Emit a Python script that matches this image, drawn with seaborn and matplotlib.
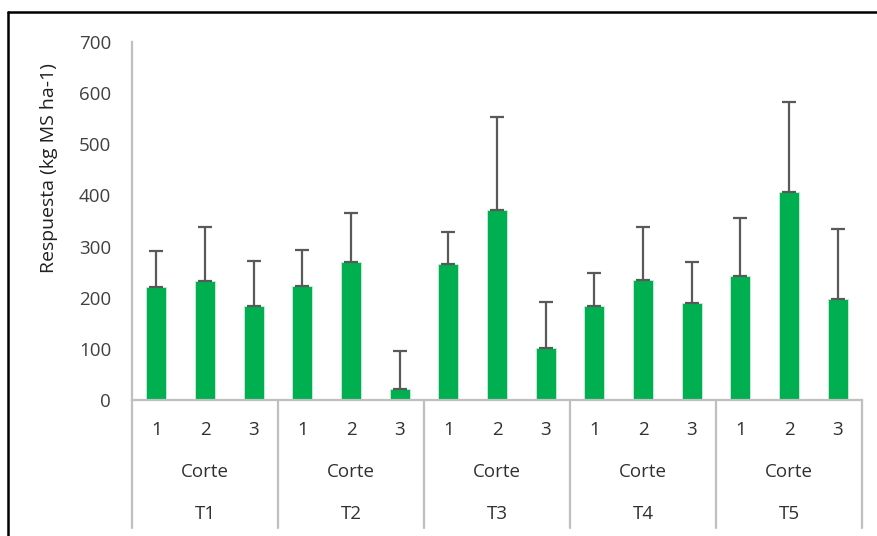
import pandas as pd
import numpy as np
import matplotlib
matplotlib.use('Agg')
import matplotlib.pyplot as plt
import matplotlib.transforms as mtransforms
from matplotlib.lines import Line2D
import seaborn as sns

sns.set_style('white')
plt.rcParams['font.family'] = ['Open Sans', 'DejaVu Sans']

# data
tratamientos = ['T1', 'T2', 'T3', 'T4', 'T5']
cortes = ['1', '2', '3']
respuesta = [221, 233, 184,
             223, 269, 22,
             265, 372, 102,
             184, 234, 190,
             242, 406, 198]
error_sup = [71, 106, 88,
             71, 97, 74,
             64, 182, 90,
             65, 105, 80,
             113, 176, 136]

df = pd.DataFrame({
    'trat': np.repeat(tratamientos, len(cortes)),
    'corte': cortes * len(tratamientos),
    'respuesta': respuesta,
    'err': error_sup,
})
df['cat'] = df['trat'] + '-' + df['corte']

fig = plt.figure(figsize=(8.78, 5.36), dpi=100)
ax = fig.add_axes([132 / 878, 1 - 400 / 536, 730 / 878, 358 / 536])

sns.barplot(data=df, x='cat', y='respuesta', color='#00B050', saturation=1,
            width=0.41, edgecolor='#C8F0D8', linewidth=0.6, ax=ax)

# upper error bars only (Excel style "plus" with caps)
xpos = np.arange(len(df))
ax.errorbar(xpos, df['respuesta'], yerr=[np.zeros(len(df)), df['err']],
            fmt='none', ecolor='#595959', elinewidth=1.6, capsize=5,
            capthick=1.6, zorder=3)

ax.set_xlim(-0.5, len(df) - 0.5)
ax.set_ylim(0, 700)
ax.set_yticks(range(0, 701, 100))
ax.tick_params(axis='y', length=0, pad=15, labelsize=13.5, labelcolor='#404040')
ax.set_xticks([])
ax.set_xlabel('')
ax.set_ylabel('Respuesta (kg MS ha-1)', fontsize=14, color='#202020')
# label sits above the axis middle in the original
ax.yaxis.set_label_coords(-0.101, 0.648)

for s in ['top', 'right']:
    ax.spines[s].set_visible(False)
for s in ['left', 'bottom']:
    ax.spines[s].set_color('#BFBFBF')
    ax.spines[s].set_linewidth(1.6)

# multi-level category axis
trans = mtransforms.blended_transform_factory(ax.transData, ax.transAxes)
for i, row in df.iterrows():
    ax.text(i, -0.083, row['corte'], transform=trans, ha='center',
            va='center', fontsize=13.5, color='#303030')
for g, t in enumerate(tratamientos):
    mid = g * len(cortes) + 1
    ax.text(mid, -0.2, 'Corte', transform=trans, ha='center', va='center',
            fontsize=13.5, color='#303030')
    ax.text(mid, -0.319, t, transform=trans, ha='center', va='center',
            fontsize=13.5, color='#303030')
for b in np.arange(-0.5, len(df), len(cortes)):
    ax.add_line(Line2D([b, b], [0, -0.357], transform=trans, color='#BFBFBF',
                       lw=1.6, clip_on=False))

# outer frame (only top and left visible in the crop)
fig.add_artist(Line2D([8 / 878, 1], [1 - 12 / 536, 1 - 12 / 536],
                      transform=fig.transFigure, color='black', lw=1.8))
fig.add_artist(Line2D([8 / 878, 8 / 878], [0, 1 - 12 / 536],
                      transform=fig.transFigure, color='black', lw=1.8))

fig.savefig('out.png', dpi=100)
